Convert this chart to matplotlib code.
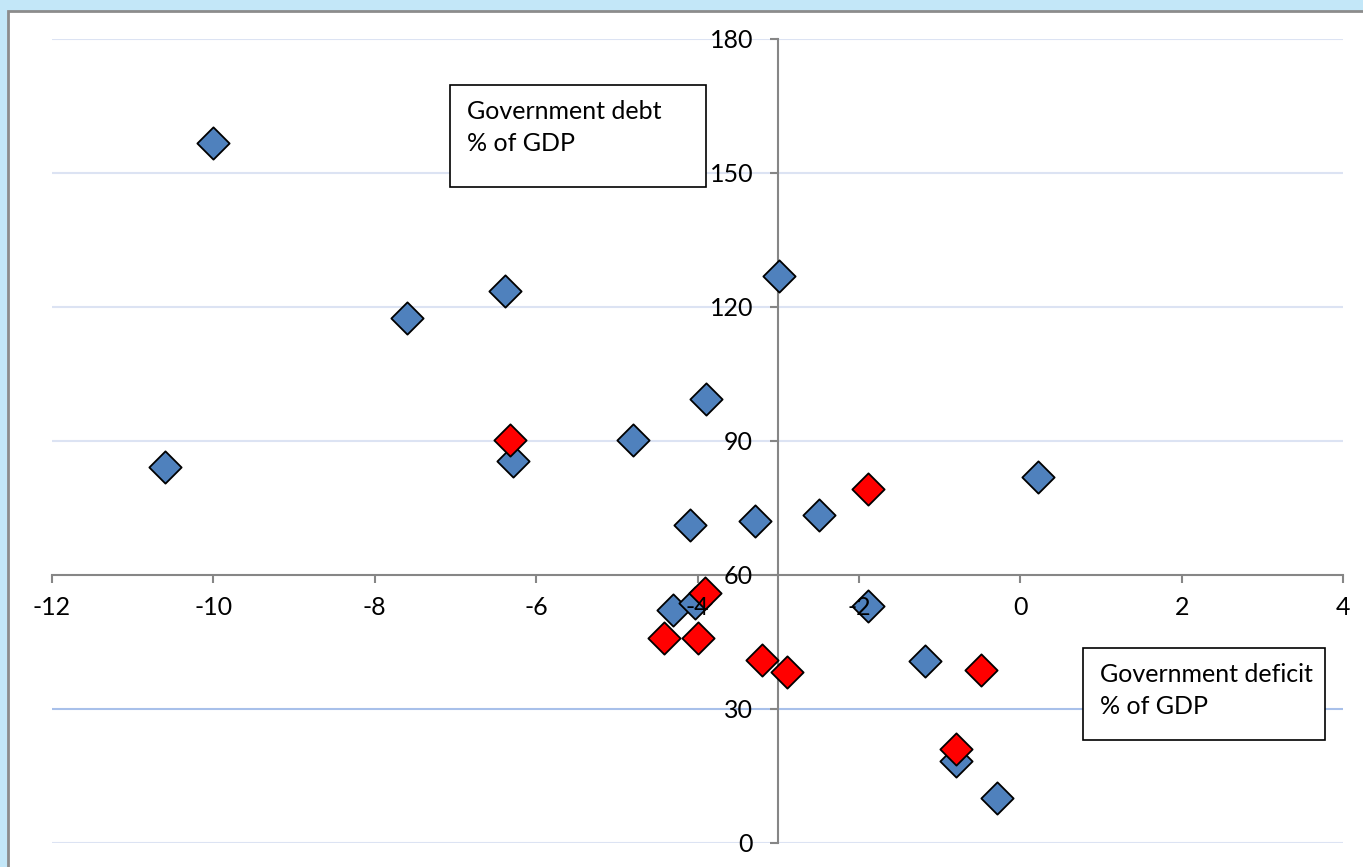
import matplotlib.pyplot as plt
from matplotlib.patches import Rectangle

# Deficit (x) and debt (y), both % of GDP
blue_deficit = [-10.6, -10.0, -7.6, -6.38, -6.29, -4.8, -3.9, -2.99, -4.09, -3.29,
                -2.5, -4.3, -4.03, -1.89, -1.18, -0.8, -0.29, 0.22]
blue_debt = [84.2, 156.7, 117.5, 123.6, 85.6, 90.2, 99.4, 126.9, 71.2, 72.1,
             73.4, 52.2, 53.8, 53.1, 40.7, 18.4, 10.0, 81.9]

red_deficit = [-6.32, -4.41, -4.0, -3.91, -3.2, -2.89, -1.89, -0.8, -0.49]
red_debt = [90.2, 46.0, 46.0, 55.9, 41.0, 38.2, 79.2, 21.0, 38.7]

x_ticks = [-12, -10, -8, -6, -4, -2, 0, 2, 4]
y_ticks = [0, 30, 60, 90, 120, 150, 180]

plt.rcParams['font.family'] = ['Lato', 'DejaVu Sans']
plt.rcParams['axes.unicode_minus'] = False

W, H = 1363, 867
fig = plt.figure(figsize=(W / 100, H / 100), dpi=100)
fig.patch.set_facecolor('#c3e7f8')

# white chart panel with grey border, kept behind the axes
panel = Rectangle((8 / W, -0.01), 1.0, 1.01 - 11 / H, transform=fig.transFigure,
                  facecolor='white', edgecolor='#8c8c8c', linewidth=2, zorder=-5)
fig.patches.append(panel)

ax = fig.add_axes([52 / W, 24 / H, 1291 / W, 804 / H])
ax.set_facecolor('none')
ax.set_xlim(-12, 4)
ax.set_ylim(0, 180)

# axes cross at x=-3, y=60
ax.spines['left'].set_position(('data', -3))
ax.spines['bottom'].set_position(('data', 60))
ax.spines['top'].set_visible(False)
ax.spines['right'].set_visible(False)
for s in ('left', 'bottom'):
    ax.spines[s].set_color('#868686')
    ax.spines[s].set_linewidth(1.5)
    ax.spines[s].set_zorder(1)

ax.set_xticks(x_ticks)
ax.set_yticks(y_ticks)
ax.tick_params(axis='both', colors='#868686', labelcolor='black', labelsize=18,
               length=6, width=1.5, direction='out')
ax.tick_params(axis='x', pad=9)
ax.tick_params(axis='y', pad=12)
# tick labels sit on top of the markers
ax.xaxis.set_zorder(5)
ax.yaxis.set_zorder(5)

# horizontal gridlines drawn by hand so they stay under everything
for t in y_ticks:
    if t == 60:
        continue
    ax.axhline(t, color='#a8c0ea' if t == 30 else '#dce3f3', linewidth=1.5, zorder=0.5)

ax.scatter(blue_deficit, blue_debt, marker='D', s=270, color='#4f81bd',
           edgecolor='black', linewidth=1.3, zorder=3)
ax.scatter(red_deficit, red_debt, marker='D', s=270, color='#ff0000',
           edgecolor='black', linewidth=1.3, zorder=4)

# label boxes
for (x0, y0, x1, y1), label in [((450, 85, 706, 187), 'Government debt\n% of GDP'),
                                ((1083, 648, 1325, 740), 'Government deficit\n% of GDP')]:
    box = Rectangle((x0 / W, 1 - y1 / H), (x1 - x0) / W, (y1 - y0) / H,
                    transform=fig.transFigure, facecolor='white',
                    edgecolor='black', linewidth=1.2, zorder=5)
    fig.patches.append(box)
    fig.text((x0 + 17) / W, 1 - (y0 + 15) / H, label, fontsize=18,
             va='top', ha='left', linespacing=1.45, zorder=6)

fig.savefig('out.png', dpi=100, facecolor=fig.get_facecolor())
